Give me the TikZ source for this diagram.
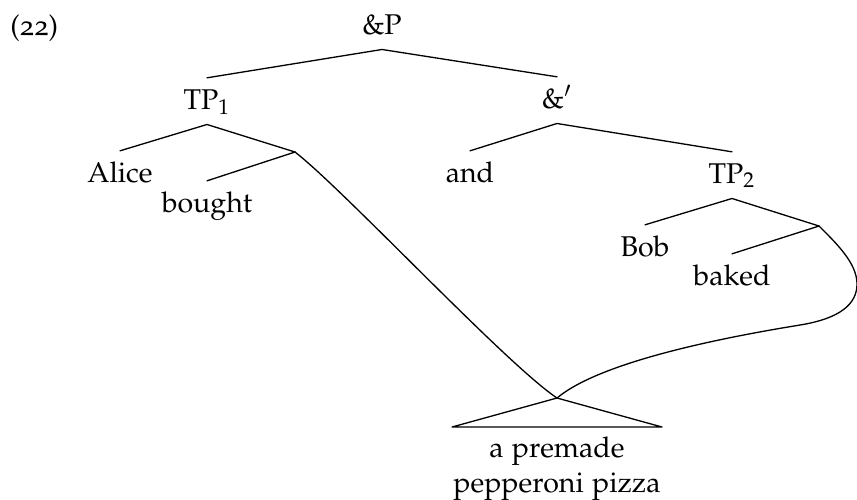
\documentclass[tikz,border=0pt]{standalone}
\usepackage[T1]{fontenc}
\usepackage[osf]{mathpazo}
\begin{document}
\begin{tikzpicture}[x=0.42pt,y=-0.42pt,
  every node/.style={font=\fontsize{12}{14.7}\selectfont},
  lab/.style={anchor=base, inner xsep=1pt, inner ysep=4.6pt, text height=8.3pt, text depth=1.7pt},
  branch/.style={line width=0.55pt, line cap=round, line join=round}]
\useasboundingbox (0,0) rectangle (857,499);
% example number
\node[anchor=base west, inner sep=0pt] (num) at (10,35) {(22)};
% labelled nodes
\node[lab] (andP)  at (382,34)  {\&P};
\node[lab] (TP1)   at (207,109) {TP$_1$};
\node[lab] (andB)  at (557,108) {\&$'$};
\node[lab] (alice) at (120,182) {Alice};
\node[lab] (bought) at (207,212) {bought};
\node[lab] (and)   at (470,182) {and};
\node[lab] (TP2)   at (732,183) {TP$_2$};
\node[lab] (bob)   at (645,256) {Bob};
\node[lab] (baked) at (732,285) {baked};
% unlabelled branching points
\coordinate (mid1) at (295,152);
\coordinate (mid2) at (819,226);
% roof
\coordinate (apex) at (557,398);
\coordinate (roofL) at (452,427);
\coordinate (roofR) at (662,427);
\node[align=center, anchor=north, inner sep=0pt] (pizza) at (557,436) {a premade\\pepperoni pizza};
% branches
\draw[branch] (TP1.north) -- (andP.south) -- (andB.north);
\draw[branch] (alice.north) -- (TP1.south) -- (mid1);
\draw[branch] (mid1) -- (bought.north);
\draw[branch] (and.north) -- (andB.south) -- (TP2.north);
\draw[branch] (bob.north) -- (TP2.south) -- (mid2);
\draw[branch] (mid2) -- (baked.north);
\draw[branch] (roofL) -- (apex) -- (roofR) -- cycle;
% movement curves
\draw[branch] (mid1) .. controls (344,190) and (506,364) .. (apex);
\coordinate (r) at (857,284);
\coordinate (s) at (800,325);
\draw[branch] (mid2) .. controls (836,243) and (857,263) .. (r)
  .. controls (857,304) and (840,318.5) .. (s)
  .. controls (720,338) and (600,362) .. (apex);
\end{tikzpicture}
\end{document}
